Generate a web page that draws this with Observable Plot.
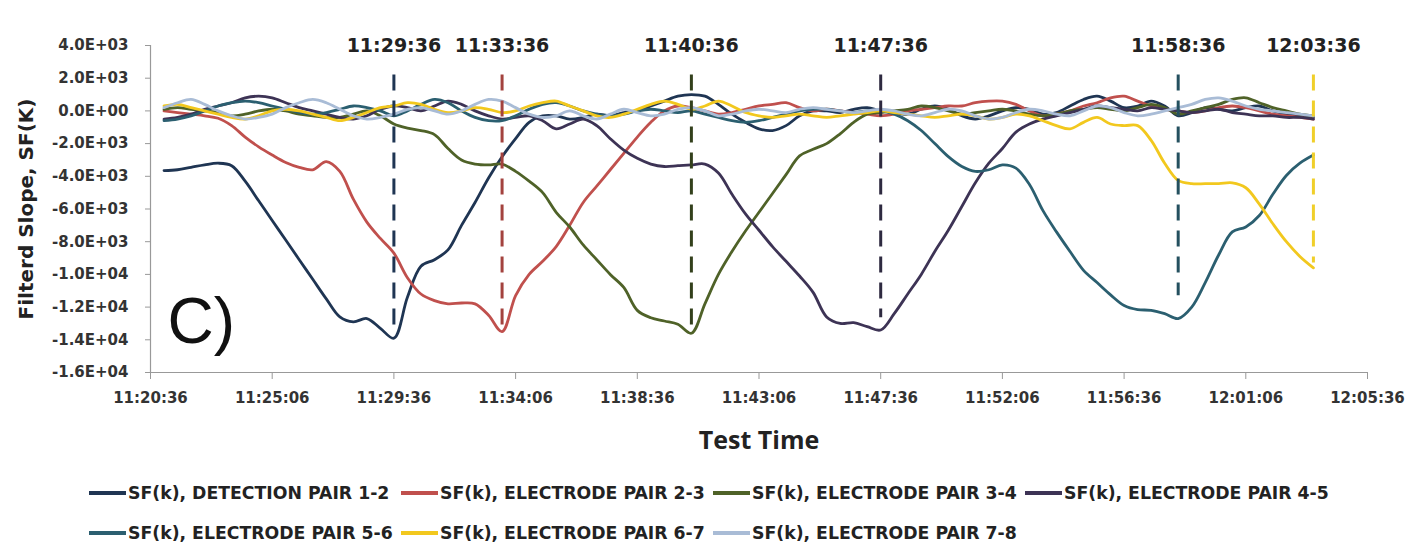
<!DOCTYPE html>
<html>
<head>
<meta charset="utf-8">
<script src="https://cdn.jsdelivr.net/npm/d3@7"></script>
<script src="https://cdn.jsdelivr.net/npm/@observablehq/plot@0.6"></script>
<style>
  html, body { margin: 0; padding: 0; background: #fff; }
  #wrap { position: relative; width: 1421px; height: 560px; overflow: hidden; background: #fff; }
  #legend { position: absolute; left: 89px; top: 0; font-family: "DejaVu Sans", sans-serif; font-weight: bold; font-size: 17.3px; color: #222; }
  .lrow { position: absolute; left: 0; height: 24px; display: flex; white-space: nowrap; }
  .item { width: 312px; display: flex; align-items: center; }
  .sw { display: inline-block; width: 37px; height: 4px; margin-right: 2px; }
</style>
</head>
<body>
<div id="wrap">
  <div id="chart"></div>
  <div id="legend"></div>
</div>
<script>
// Sample clock times (30 s filter output step)
const sampleTimes = [
  "11:21:06","11:21:36","11:22:06","11:22:36","11:23:06","11:23:36","11:24:06","11:24:36","11:25:06","11:25:36",
  "11:26:06","11:26:36","11:27:06","11:27:36","11:28:06","11:28:36","11:29:06","11:29:36","11:30:06","11:30:36",
  "11:31:06","11:31:36","11:32:06","11:32:36","11:33:06","11:33:36","11:34:06","11:34:36","11:35:06","11:35:36",
  "11:36:06","11:36:36","11:37:06","11:37:36","11:38:06","11:38:36","11:39:06","11:39:36","11:40:06","11:40:36",
  "11:41:06","11:41:36","11:42:06","11:42:36","11:43:06","11:43:36","11:44:06","11:44:36","11:45:06","11:45:36",
  "11:46:06","11:46:36","11:47:06","11:47:36","11:48:06","11:48:36","11:49:06","11:49:36","11:50:06","11:50:36",
  "11:51:06","11:51:36","11:52:06","11:52:36","11:53:06","11:53:36","11:54:06","11:54:36","11:55:06","11:55:36",
  "11:56:06","11:56:36","11:57:06","11:57:36","11:58:06","11:58:36","11:59:06","11:59:36","12:00:06","12:00:36",
  "12:01:06","12:01:36","12:02:06","12:02:36","12:03:06","12:03:36"
];

const seriesNames = [
  "SF(k), DETECTION PAIR 1-2",
  "SF(k), ELECTRODE PAIR 2-3",
  "SF(k), ELECTRODE PAIR 3-4",
  "SF(k), ELECTRODE PAIR 4-5",
  "SF(k), ELECTRODE PAIR 5-6",
  "SF(k), ELECTRODE PAIR 6-7",
  "SF(k), ELECTRODE PAIR 7-8"
];
const seriesColors = ["#1f3553", "#c0504d", "#4f6228", "#3d3355", "#2b5f70", "#f2c81e", "#a9bcd6"];

// Filtered slope SF(k) per electrode pair
const pair12 = [
  -3650,-3600,-3450,-3300,-3200,-3350,-4300,-5500,-6700,-7900,
  -9100,-10300,-11500,-12600,-12900,-12700,-13300,-13900,-11400,-9500,
  -9100,-8500,-7000,-5600,-4100,-2800,-1700,-700,-300,-300,
  -500,-400,-200,-300,-100,0,300,600,900,1000,
  900,400,-200,-700,-1100,-1200,-900,-300,0,0,
  -100,100,200,0,-100,-200,100,300,100,-300,
  -500,-300,0,200,100,-200,-100,300,700,900,
  600,200,300,600,300,-300,-100,200,100,0,
  200,300,0,-200,-300,-400
];
const pair23 = [
  0,-100,-200,-300,-450,-900,-1600,-2200,-2700,-3150,
  -3450,-3600,-3100,-3700,-5400,-6800,-7800,-8700,-10200,-11200,
  -11600,-11800,-11750,-11800,-12500,-13500,-11300,-10000,-9200,-8300,
  -7000,-5600,-4600,-3600,-2600,-1600,-700,0,300,200,
  0,-200,-100,100,300,400,500,200,0,100,
  0,-100,-200,-300,-200,0,100,200,300,300,
  500,600,600,400,0,-300,-200,0,300,500,
  800,900,600,300,100,0,-100,0,200,300,
  200,0,-200,-300,-400,-500
];
const pair34 = [
  100,200,100,0,-100,-300,-200,0,100,0,
  -200,-300,-400,-400,-200,0,-300,-800,-1050,-1200,
  -1450,-2300,-3000,-3250,-3300,-3250,-3700,-4300,-5000,-6200,
  -7100,-8200,-9100,-10000,-10800,-12200,-12650,-12850,-13050,-13600,
  -11800,-10000,-8600,-7350,-6200,-5050,-3900,-2750,-2350,-2000,
  -1400,-700,-200,-100,0,100,300,200,0,-200,
  -100,0,100,0,-200,-300,-200,0,100,200,
  100,0,200,400,200,-200,0,200,400,700,
  800,500,200,0,-200,-300
];
const pair45 = [
  -500,-400,-200,100,300,500,800,900,800,500,
  200,0,-200,-400,-500,-300,100,300,200,0,
  300,600,400,0,-300,-500,-400,-300,-600,-1100,
  -800,-500,-900,-1700,-2400,-2900,-3250,-3400,-3350,-3300,
  -3250,-3800,-5100,-6300,-7300,-8300,-9200,-10100,-11100,-12600,
  -13000,-12950,-13200,-13400,-12400,-11200,-10000,-8600,-7300,-5850,
  -4400,-3200,-2300,-1300,-800,-500,-300,-100,100,300,
  200,100,0,200,100,0,-100,0,100,-100,
  -200,-300,-300,-400,-400,-500
];
const pair56 = [
  -600,-500,-300,0,300,500,600,500,300,100,
  -100,-200,-100,100,300,200,0,-300,0,400,
  700,500,0,-400,-600,-600,-300,100,400,500,
  300,0,-200,-300,-200,0,100,0,-100,0,
  -200,-400,-600,-700,-600,-400,-200,0,100,100,
  0,-100,0,0,-200,-600,-1200,-2000,-2800,-3400,
  -3700,-3600,-3300,-3500,-4500,-6100,-7400,-8600,-9750,-10500,
  -11250,-11900,-12150,-12200,-12400,-12700,-12000,-10500,-8800,-7400,
  -7100,-6400,-5100,-3950,-3200,-2700
];
const pair67 = [
  300,400,200,0,-200,-400,-500,-300,0,100,
  0,-200,-400,-600,-400,-100,200,300,500,400,
  100,-100,0,200,100,-100,0,300,500,600,
  300,0,-300,-400,-200,100,400,600,400,100,
  300,600,300,-100,-300,-400,-300,-200,-300,-400,
  -300,-200,-100,0,-100,-200,-300,-400,-300,-200,
  -300,-500,-400,-200,-300,-600,-900,-1100,-700,-400,
  -800,-900,-900,-1800,-3200,-4250,-4450,-4450,-4450,-4400,
  -4700,-5700,-6900,-8000,-8900,-9600
];
const pair78 = [
  200,500,700,400,0,-300,-500,-400,-200,200,
  500,700,500,100,-300,-500,-400,-200,100,200,
  0,-200,0,400,700,600,200,-200,-400,-300,
  0,-300,-500,-200,100,-100,-300,-200,100,200,
  0,-300,-200,0,100,0,-100,100,200,100,
  0,-100,0,100,0,-200,-300,-100,100,0,
  -300,-500,-400,-100,100,0,-200,-300,0,300,
  200,-100,-300,-200,0,200,400,700,800,600,
  300,100,0,-100,-200,-300
];
const seriesValues = [pair12, pair23, pair34, pair45, pair56, pair67, pair78];

// Detection instants marked with dashed lines (time, line depth, colour)
const markerTimes = ["11:29:36", "11:33:36", "11:40:36", "11:47:36", "11:58:36", "12:03:36"];
const markerDepths = [-13500, -13300, -13250, -12650, -11300, -9300];
const markerColors = ["#1f3553", "#a3423e", "#33401c", "#2e2a40", "#24505f", "#f0cf2a"];
const markerTop = 2200;

// Axis ticks
const xTickLabels = ["11:20:36","11:25:06","11:29:36","11:34:06","11:38:36","11:43:06","11:47:36","11:52:06","11:56:36","12:01:06","12:05:36"];
const yTicks = [4000, 2000, 0, -2000, -4000, -6000, -8000, -10000, -12000, -14000, -16000];

const parseT = s => { const [h, m, sec] = s.split(":").map(Number); return new Date(Date.UTC(2000, 0, 1, h, m, sec)); };
const fmtT = d3.utcFormat("%H:%M:%S");
function sci(v) {
  if (v === 0) return "0.0E+00";
  const e = Math.floor(Math.log10(Math.abs(v)));
  const m = v / Math.pow(10, e);
  return m.toFixed(1) + "E" + (e < 0 ? "-" : "+") + String(Math.abs(e)).padStart(2, "0");
}

const xTicks = xTickLabels.map(parseT);
const xDomain = [xTicks[0], xTicks[xTicks.length - 1]];

const rows = seriesNames.map((name, i) =>
  sampleTimes.map((t, j) => ({series: name, time: parseT(t), value: seriesValues[i][j]}))
);

const boldFont = "'DejaVu Sans', sans-serif";

const chart = Plot.plot({
  width: 1421,
  height: 465,
  marginLeft: 150,
  marginRight: 54,
  marginTop: 45,
  marginBottom: 93,
  style: {fontFamily: boldFont, background: "white", color: "#333"},
  x: {type: "utc", domain: xDomain},
  y: {domain: [-16000, 4000]},
  marks: [
    Plot.axisX({ticks: xTicks, tickFormat: fmtT, tickSize: 7, tickPadding: 13, fontSize: 15, fontWeight: "bold", fill: "#333", stroke: "#999", label: null}),
    Plot.axisY({ticks: yTicks, tickFormat: sci, tickSize: 5, tickPadding: 17, fontSize: 15, fontWeight: "bold", fill: "#333", stroke: "#999", label: null}),
    Plot.ruleY([-16000], {stroke: "#999", strokeWidth: 1.2}),
    Plot.ruleX([xDomain[0]], {stroke: "#999", strokeWidth: 1.2}),
    ...rows.map((data, i) => Plot.line(data, {
      x: "time", y: "value", stroke: seriesColors[i], strokeWidth: 2.8, curve: "catmull-rom"
    })),
    ...markerTimes.map((t, i) => Plot.ruleX([parseT(t)], {
      y1: markerTop, y2: markerDepths[i], stroke: markerColors[i], strokeWidth: 3, strokeDasharray: "16,10"
    })),
    Plot.text(markerTimes, {x: d => parseT(d), y: 4000, text: d => d, fontSize: 19, fontWeight: "bold", fill: "#222"}),
    Plot.text(["C)"], {frameAnchor: "bottom-left", dx: 17, dy: -30, textAnchor: "start", lineAnchor: "bottom",
      fontSize: 64, fontFamily: "'Liberation Sans', Arial, sans-serif", fontWeight: "normal", fill: "#111"}),
    Plot.text(["Test Time"], {frameAnchor: "bottom", dy: 68, lineAnchor: "middle",
      fontSize: 25, fontFamily: "'Open Sans', sans-serif", fontWeight: "bold", fill: "#222"}),
    Plot.text(["Filterd Slope, SF(K)"], {frameAnchor: "left", dx: -124, rotate: -90,
      textAnchor: "middle", lineAnchor: "middle", fontSize: 20, fontWeight: "bold", fill: "#222"})
  ]
});
document.getElementById("chart").appendChild(chart);

// Legend: two rows of four columns
const legend = document.getElementById("legend");
const rowTops = [481, 521];
[[0, 1, 2, 3], [4, 5, 6]].forEach((idx, r) => {
  const row = document.createElement("div");
  row.className = "lrow";
  row.style.top = rowTops[r] + "px";
  idx.forEach(i => {
    const item = document.createElement("div");
    item.className = "item";
    const sw = document.createElement("span");
    sw.className = "sw";
    sw.style.background = seriesColors[i];
    const label = document.createElement("span");
    label.textContent = seriesNames[i];
    item.appendChild(sw);
    item.appendChild(label);
    row.appendChild(item);
  });
  legend.appendChild(row);
});
</script>
</body>
</html>
